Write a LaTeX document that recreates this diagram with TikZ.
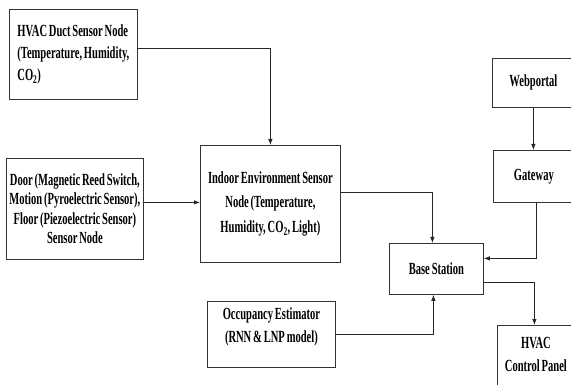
\documentclass[tikz,border=0pt]{standalone}
\usepackage{fontspec}
\setmainfont{Liberation Serif}[FakeStretch=0.62, WordSpace=0.7]
\usetikzlibrary{arrows.meta,calc}
\tikzset{
  box/.style={draw=black!80, line width=0.8pt, rectangle, anchor=north west, inner sep=0pt,
    font=\fontsize{17}{22}\selectfont\bfseries},
  conn/.style={draw=black!85, line width=0.8pt},
  arr/.style={conn, -{Latex[length=6pt,width=4.5pt]}}
}
\begin{document}
\begin{tikzpicture}[x=1pt,y=-1pt]
\useasboundingbox (0,0) rectangle (571,385);
\clip (0,0) rectangle (571,385);
% boxes
\node[box, minimum width=128pt, minimum height=90pt, align=left] (duct) at (9,9)
  {HVAC Duct Sensor Node\\(Temperature, Humidity,\\CO\textsubscript{2})};
\node[box, minimum width=137pt, minimum height=101pt, align=center,
  font=\fontsize{17}{19.5}\selectfont\bfseries] (door) at (6,158)
  {Door (Magnetic Reed Switch,\\Motion (Pyroelectric Sensor),\\Floor (Piezoelectric Sensor)\\Sensor Node};
\node[box, minimum width=140pt, minimum height=117pt, align=center,
  font=\fontsize{17}{24.5}\selectfont\bfseries] (indoor) at (200,145)
  {Indoor Environment Sensor\\Node (Temperature,\\Humidity, CO\textsubscript{2}, Light)};
\node[box, minimum width=94pt, minimum height=51pt, align=center] (base) at (389,243) {Base Station};
\node[box, minimum width=128pt, minimum height=66pt, align=center,
  font=\fontsize{17}{23}\selectfont\bfseries] (occ) at (207,301)
  {Occupancy Estimator\\(RNN \& LNP model)\\[-4pt]};
\node[box, minimum width=82pt, minimum height=49pt, align=center] (web) at (492,58) {Webportal};
\node[box, minimum width=81pt, minimum height=52pt, align=center] (gate) at (493,150) {Gateway};
\node[box, minimum width=77pt, minimum height=80pt, align=center,
  font=\fontsize{17}{23}\selectfont\bfseries] (hvac) at (497,325)
  {HVAC\\Control Panel\\\mbox{}};
% connectors
\draw[arr] ([yshift=6pt]duct.east) -| (indoor.north);
\draw[arr] ([yshift=6.5pt]door.east) -- ([yshift=6.5pt]door.east -| indoor.west);
\draw[arr] ([yshift=11pt]indoor.east) -| ([xshift=-4pt]base.north);
\draw[arr] (web.south) -- (web.south |- gate.north);
\draw[arr] ([xshift=2pt]gate.south) |- ([yshift=10.5pt]base.east);
\draw[arr] ([yshift=-13pt]base.east) -| ([xshift=-1.5pt]hvac.north);
\draw[arr] (occ.east) -| ([xshift=-3pt]base.south);
\end{tikzpicture}
\end{document}
